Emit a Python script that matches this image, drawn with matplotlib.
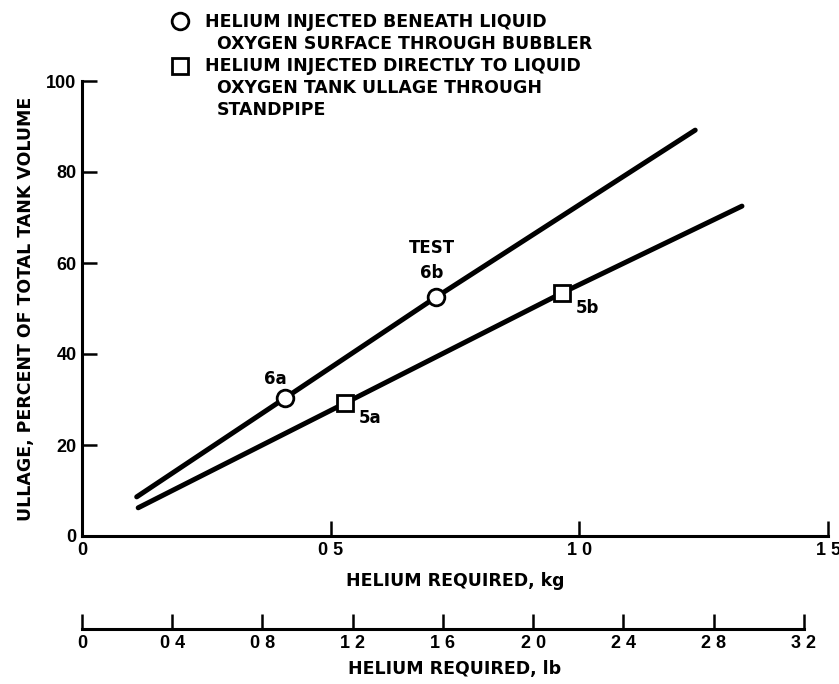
import numpy as np
import matplotlib.pyplot as plt

# data (kg of helium vs ullage %)
bub_x = [0.11, 0.408, 0.712, 1.233]      # bubbler line, incl. extended ends
bub_y = [8.6, 30.3, 52.5, 89.2]
bub_pts_x = [0.408, 0.712]
bub_pts_y = [30.3, 52.5]
bub_names = ['6a', '6b']

std_x = [0.113, 0.529, 0.965, 1.327]     # standpipe line
std_y = [6.2, 29.2, 53.4, 72.5]
std_pts_x = [0.529, 0.965]
std_pts_y = [29.2, 53.4]
std_names = ['5a', '5b']

kg_ticks = [0, 0.5, 1.0, 1.5]
kg_labels = ['0', '0 5', '1 0', '1 5']
lb_ticks = [0, 0.4, 0.8, 1.2, 1.6, 2.0, 2.4, 2.8, 3.2]
lb_labels = ['0', '0 4', '0 8', '1 2', '1 6', '2 0', '2 4', '2 8', '3 2']
pct_ticks = [0, 20, 40, 60, 80, 100]

W, H = 839, 684
fig = plt.figure(figsize=(W/100, H/100), dpi=100)
bold = dict(family='DejaVu Sans', weight='bold')
digits = dict(family='Liberation Sans', weight='bold', size=13)

ax = fig.add_axes([82/W, 1-536/H, 746/W, 455/H])
ax.set_xlim(0, 1.5)
ax.set_ylim(0, 100)
for s in ['top', 'right']:
    ax.spines[s].set_visible(False)
for s in ['left', 'bottom']:
    ax.spines[s].set_linewidth(2.2)
ax.tick_params(direction='in', length=11, width=1.8, pad=4)
ax.set_xticks(kg_ticks, kg_labels, **digits)
ax.set_yticks(pct_ticks, [str(v) for v in pct_ticks], **digits)
ax.set_xlabel('HELIUM REQUIRED, kg', fontsize=12.5, labelpad=10, **bold)
ax.set_ylabel('ULLAGE, PERCENT OF TOTAL TANK VOLUME', fontsize=12.5, labelpad=8, **bold)

ax.plot(bub_x, bub_y, 'k-', lw=3.6, solid_capstyle='round')
ax.plot(std_x, std_y, 'k-', lw=3.6, solid_capstyle='round')
ax.plot(bub_pts_x, bub_pts_y, 'o', ms=12, mfc='white', mec='black', mew=2, zorder=5)
ax.plot(std_pts_x, std_pts_y, 's', ms=12, mfc='white', mec='black', mew=2, zorder=5)

# point labels
ax.annotate(bub_names[0], (bub_pts_x[0], bub_pts_y[0]), xytext=(-7, 7),
            textcoords='offset points', ha='center', va='bottom', fontsize=12, **bold)
ax.annotate('TEST\n' + bub_names[1], (bub_pts_x[1], bub_pts_y[1]), xytext=(-3, 11),
            textcoords='offset points', ha='center', va='bottom', fontsize=12,
            linespacing=1.5, **bold)
ax.annotate(std_names[0], (std_pts_x[0], std_pts_y[0]), xytext=(10, -4),
            textcoords='offset points', ha='left', va='top', fontsize=12, **bold)
ax.annotate(std_names[1], (std_pts_x[1], std_pts_y[1]), xytext=(10, -4),
            textcoords='offset points', ha='left', va='top', fontsize=12, **bold)

# second scale in pounds
ax2 = fig.add_axes([82/W, 1-629/H, 746/W, 0.0001])
ax2.set_xlim(0, 1.5*2.20462)
ax2.set_yticks([])
for s in ['top', 'right', 'left']:
    ax2.spines[s].set_visible(False)
ax2.spines['bottom'].set_bounds(0, 3.2)
ax2.spines['bottom'].set_linewidth(2.2)
ax2.tick_params(direction='in', length=11, width=1.8, pad=4)
ax2.set_xticks(lb_ticks, lb_labels, **digits)
ax2.set_xlabel('HELIUM REQUIRED, lb', fontsize=12.5, labelpad=6, **bold)

# legend drawn by hand
leg = fig.add_axes([0, 0, 1, 1], facecolor='none')
leg.set_xlim(0, W)
leg.set_ylim(H, 0)
leg.axis('off')
leg.plot([180], [21], 'o', ms=12, mfc='white', mec='black', mew=2)
leg.plot([180], [66], 's', ms=12, mfc='white', mec='black', mew=2)
lines = [(205, 22, 'HELIUM INJECTED BENEATH LIQUID'),
         (217, 44, 'OXYGEN SURFACE THROUGH BUBBLER'),
         (205, 66, 'HELIUM INJECTED DIRECTLY TO LIQUID'),
         (217, 88, 'OXYGEN TANK ULLAGE THROUGH'),
         (217, 110, 'STANDPIPE')]
for x, y, t in lines:
    leg.text(x, y, t, ha='left', va='center', fontsize=12.5, **bold)

fig.savefig('out.png', dpi=100)
